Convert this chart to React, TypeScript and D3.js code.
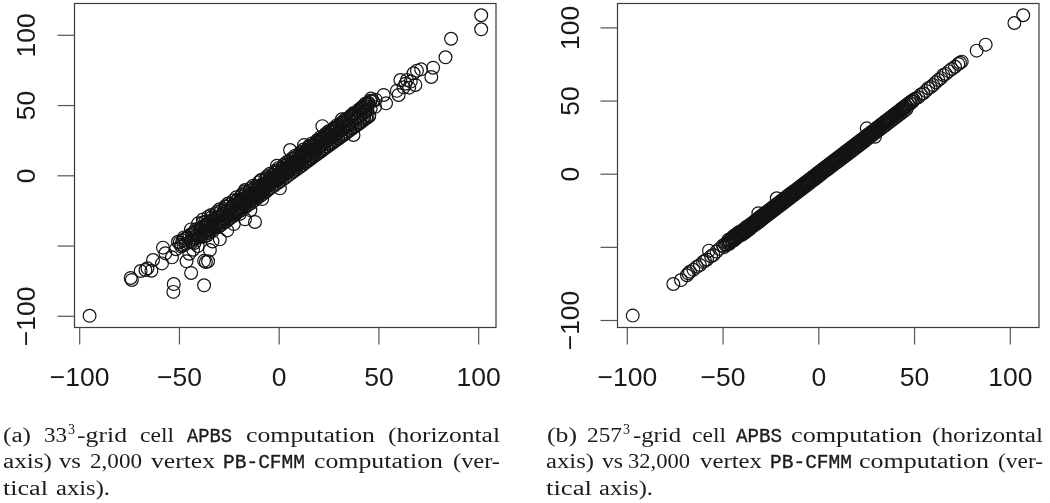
import React, { useEffect, useRef } from "react";
import * as d3 from "d3";

const xTickValues = [-100, -50, 0, 50, 100];
// R dropped the -50 label on the vertical axis, the tick stays
const yTickValues = [-100, -50, 0, 50, 100];
const yLabelValues = [-100, 0, 50, 100];

// panel (a): sparse points read one by one
const leftOuterX = [-94.8, -74.2, -73.6, -69.2, -66.8, -63.8, -65.8, -63, -58.5, -58, -53.5, -56.8, -52.6, -52.8, -43.9, -37.4, -46.2, -36.5, -35.4, -37.4, -29.5, -11.9, -16.9, -22.5, -34.5, -42.9, -50.5, -48.9, -51.5, -47.5, -44.8, -40.6, -33.2, -25.8, -19.6, -14.2, -8.3, -16.9, 0.6, -0.9, 5.7, 12.7, 21.9, 31.7, 37.5, 52.6, 60.1, 62.6, 61, 64.3, 68.5, 67.6, 69.3, 71.4, 76.5, 77.4, 83.6, 86.4, 101.5, 101.5, 59.2, 63.5, 65.4, 66.2, 53.8, 48.6, 46.2, 43.4];
const leftOuterY = [-100, -73.1, -74.5, -68.1, -67.4, -67.9, -66.2, -60.3, -62.7, -51.5, -58.4, -55.5, -77.4, -83, -69.5, -78.3, -61.2, -61.7, -61.2, -60.9, -45.6, -33.2, -31.3, -34.7, -53.2, -53, -47.3, -49.5, -52.6, -44.2, -55.8, -50.4, -47.1, -39.2, -27.5, -24.8, -16.9, -10.5, -9.3, 6.8, 18, 21.5, 35, 39.9, 28.7, 57.2, 57.2, 62.6, 67.8, 67.8, 64.3, 72.6, 74.5, 75.4, 70, 76.6, 84, 97.2, 103.9, 113.9, 60.1, 65.2, 62.4, 66.7, 51.2, 53.8, 54.6, 50.9];

// panel (a): the dense band
const leftBandX = [-49.6, -48.9, -48.2, -47.7, -47, -46.6, -45.8, -45.3, -44.7, -44.1, -43.6, -43, -42.5, -41.9, -41.2, -40.8, -40.1, -39.6, -39, -38.5, -37.9, -37.2, -36.8, -36.1, -35.6, -35, -34.6, -34, -33.4, -32.9, -32.3, -31.8, -31.1, -30.7, -30, -29.5, -28.9, -28.4, -27.8, -27.2, -26.7, -26.1, -25.6, -25, -24.5, -23.9, -23.4, -22.8, -22.2, -21.7, -21.1, -20.6, -20, -19.5, -18.9, -18.4, -17.8, -17.2, -16.7, -16.1, -15.6, -15, -14.5, -13.9, -13.4, -12.8, -12.2, -11.7, -11.1, -10.6, -10, -9.5, -8.9, -8.4, -7.8, -7.2, -6.7, -6.1, -5.6, -5, -4.5, -3.9, -3.4, -2.8, -2.2, -1.7, -1.1, -0.6, 0, 0.5, 1.1, 1.6, 2.2, 2.8, 3.3, 3.9, 4.4, 5, 5.5, 6.1, 6.6, 7.2, 7.8, 8.3, 8.9, 9.4, 10, 10.5, 11.1, 11.6, 12.2, 12.8, 13.3, 13.9, 14.4, 15, 15.5, 16.1, 16.6, 17.2, 17.8, 18.3, 18.9, 19.4, 20, 20.5, 21.1, 21.6, 22.2, 22.8, 23.3, 23.9, 24.4, 25, 25.5, 26.1, 26.6, 27.2, 27.8, 28.3, 28.9, 29.4, 30, 30.5, 31.1, 31.6, 32.2, 32.8, 33.3, 33.9, 34.4, 35, 35.5, 36.1, 36.6, 37.2, 37.8, 38.3, 38.9, 39.4, 40, 40.5, 41.1, 41.6, 42.2, 42.8, 43.3, 43.9, 44.4, 45, 46.1, 47.2, 48.3];
const leftBandY = [-47.8, -50.6, -46.5, -49.9, -45.2, -48.8, -44.1, -47.9, -42.6, -46.9, -41.8, -45.7, -44.2, -40.6, -44.9, -38.9, -43.8, -37.9, -42.4, -36.8, -41.5, -35.9, -40.2, -34.7, -39.6, -33.8, -38.1, -32.9, -36.4, -34.5, -31.8, -36.2, -30.6, -34.8, -29.5, -33.3, -28.4, -32.2, -27.1, -31, -25.9, -29.8, -24.8, -28.6, -26.5, -23.4, -27.2, -22.1, -25.9, -21.2, -24.7, -19.8, -23.6, -18.5, -22.2, -17.8, -20.9, -16.4, -19.8, -15.3, -18.6, -14.2, -17.1, -13.3, -15.9, -12.2, -14.8, -11, -13.6, -9.9, -12.4, -8.6, -11.3, -7.7, -10, -6.4, -8.9, -5.2, -7.5, -4.4, -6.2, -3.1, -5, -1.9, -3.8, -0.9, -2.6, 0.4, -1.5, 1.6, -0.1, 2.8, 1, 4.1, 2.2, 5.3, 3.4, 6.5, 4.6, 7.9, 5.8, 9.1, 7, 10.3, 8.2, 11.5, 9.4, 12.9, 10.5, 14.1, 11.7, 15.3, 12.9, 16.5, 14, 17.8, 15.2, 19, 16.4, 20.3, 17.5, 21.6, 18.8, 22.9, 20, 24.1, 21.2, 25.4, 22.3, 26.6, 23.5, 27.9, 24.8, 29.1, 26, 30.4, 27.2, 31.7, 28.3, 32.9, 29.5, 34.2, 30.8, 35.4, 32, 36.7, 33.1, 37.9, 34.3, 39.2, 35.6, 40.4, 36.8, 41.7, 38, 42.9, 39.1, 44.2, 40.4, 45.4, 41.6, 46.7, 42.8, 47.9, 44, 49.2, 45.1, 50.4, 46.4, 51.7, 47.5, 52.9, 48.7];

// panel (a): wider scatter around the band
const leftWideX = [-44, -43.4, -42.8, -42.2, -41.6, -41, -40.4, -39.8, -39.2, -38.6, -38, -37.4, -36.8, -36.2, -35.6, -35, -34.4, -33.8, -33.2, -32.6, -32, -31.4, -30.8, -30.2, -29.6, -29, -28.4, -27.8, -27.2, -26.6, -26, -25.4, -24.8, -24.2, -23.6, -23, -22.4, -21.8, -21.2, -20.6, -20, -19.4, -18.8, -18.2, -17.6, -17, -16.4, -15.8, -15.2, -14.6, -14, -13.4, -12.8, -12.2, -11.6, -11, -10.4, -9.8, -9.2, -8.6, -8, -7.4, -6.8, -6.2, -5.6, -5, -4.4, -3.8, -3.2, -2.6, -2, -1.4, -0.8, -0.2, 0.4, 1, 1.6, 2.2, 2.8, 3.4, 4, 4.6, 5.2, 5.8, 6.4, 7, 7.6, 8.2, 8.8, 9.4, 10, 10.6, 11.2, 11.8, 12.4, 13, 13.6, 14.2, 14.8, 15.4, 16, 16.6, 17.2, 17.8, 18.4, 19, 19.6, 20.2, 20.8, 21.4, 22, 22.6, 23.2, 23.8, 24.4, 25, 25.6, 26.2, 26.8, 27.4, 28, 28.6, 29.2, 29.8, 30.4, 31, 31.6, 32.2, 32.8, 33.4, 34, 34.6, 35.2, 35.8, 36.4, 37, 37.6, 38.2, 38.8, 39.4, 40, 40.6, 41.2, 41.8, 42.4, 43, 43.6, 44.2, 44.8, 45.4, 46];
const leftWideY = [-38.5, -47.6, -41.3, -48.2, -38.4, -42.8, -34.2, -43.3, -38.8, -43.7, -33.6, -40, -33, -41.5, -34.4, -40.8, -35.2, -30.1, -37.7, -30.9, -36.8, -27.6, -34.2, -29.8, -35.9, -25.3, -30.4, -33.6, -24, -31.1, -22.2, -28.7, -26.9, -20.4, -28.4, -21.7, -26.1, -18.9, -25.8, -17.4, -23.7, -19.9, -14.8, -23.1, -15.2, -21.3, -12.6, -19.4, -16.8, -11.1, -18.7, -10.2, -16.3, -13.5, -8, -14.9, -7.6, -12.8, -3.8, -12.2, -6.4, -10.9, -3.1, -8.4, -1.9, -9.5, -2.2, -5.7, 0.6, -6.1, 1.8, -3.9, 3.1, -2.8, 4.2, -1.6, 4.9, -0.7, 6.6, 1.2, 7.4, 2.1, 9.8, 3.9, 9.6, 2.9, 11.8, 5.4, 13.1, 6.8, 14.7, 7.9, 15.4, 8.6, 16.3, 10.2, 17.9, 11.1, 19.6, 12, 20.8, 13.4, 21.1, 14.6, 23.4, 15.3, 24.8, 16.9, 25.7, 18.1, 26.4, 19.3, 28.9, 20.4, 29.6, 21.8, 30.8, 22.7, 31.9, 23.6, 33.1, 25.1, 34.2, 26.4, 35.9, 27.3, 37.2, 28.5, 38.1, 29.7, 39.4, 31.1, 40.8, 32.3, 41.9, 33.8, 43.6, 34.9, 44.2, 36.1, 45.7, 37.4, 46.8, 38.6, 47.9, 40.1, 49.2, 41.3, 50.4, 42.6, 52.8, 43.9];

// panel (a): outer edge of the band
const leftEdgeX = [-38, -37.3, -36.6, -35.9, -35.2, -34.5, -33.8, -33.1, -32.4, -31.7, -31, -30.3, -29.6, -28.9, -28.2, -27.5, -26.8, -26.1, -25.4, -24.7, -24, -23.3, -22.6, -21.9, -21.2, -20.5, -19.8, -19.1, -18.4, -17.7, -17, -16.3, -15.6, -14.9, -14.2, -13.5, -12.8, -12.1, -11.4, -10.7, -10, -9.3, -8.6, -7.9, -7.2, -6.5, -5.8, -5.1, -4.4, -3.7, -3, -2.3, -1.6, -0.9, -0.2, 0.5, 1.2, 1.9, 2.6, 3.3, 4, 4.7, 5.4, 6.1, 6.8, 7.5, 8.2, 8.9, 9.6, 10.3, 11, 11.7, 12.4, 13.1, 13.8, 14.5, 15.2, 15.9, 16.6, 17.3, 18, 18.7, 19.4, 20.1, 20.8, 21.5, 22.2, 22.9, 23.6, 24.3, 25, 25.7, 26.4, 27.1, 27.8, 28.5, 29.2, 29.9, 30.6, 31.3, 32, 32.7, 33.4, 34.1, 34.8, 35.5, 36.2, 36.9, 37.6, 38.3, 39, 39.7, 40.4, 41.1, 41.8, 42.5, 43.2, 43.9, 44.6, 45.3, 46];
const leftEdgeY = [-31.5, -43.6, -35.2, -42.8, -29.4, -38.9, -28.3, -39.7, -32.9, -37.2, -26.1, -36.8, -24.2, -35.4, -27.3, -33.8, -22, -32.7, -20.1, -30.9, -23.6, -29.5, -17.8, -28.3, -15.6, -26.4, -19.2, -25.1, -13.5, -23.9, -11.6, -22.3, -15.2, -20.7, -9.3, -19.6, -7.4, -17.8, -11.1, -16.2, -5, -14.7, -3.1, -13.3, -7, -11.9, -0.7, -10.2, 1.1, -8.8, -3, -7.4, 3.3, -5.9, 5.1, -4.6, 1.4, -3.1, 7.7, -1.7, 9.4, -0.2, 5.8, 1.2, 12.1, 2.6, 14, 4.1, 10.2, 5.6, 16.6, 7, 18.3, 8.5, 14.6, 10, 20.9, 11.4, 22.7, 13, 19.1, 14.4, 25.2, 15.9, 27, 17.3, 23.7, 18.8, 29.6, 20.2, 31.3, 21.7, 28, 23.1, 33.9, 24.6, 35.7, 26, 32.4, 27.5, 38.2, 28.9, 40, 30.4, 36.8, 31.8, 42.6, 33.3, 44.3, 34.7, 41.1, 36.2, 47, 37.6, 48.7, 39.1, 45.5, 40.5, 51.3, 42, 53];

// panel (b): sparse points read one by one
const rightOuterX = [-96.9, -75.7, -71.7, -68.6, -67.9, -67, -65.2, -63.4, -61.8, -60.2, -59.2, -58.1, -57.1, -56, -54.8, -53.1, -51.7, -31.3, -21.7, 25.3, 29.6, 50.8, 52.2, 53.6, 54.8, 56.2, 57.4, 58.7, 60, 61.4, 62.7, 64.1, 65.3, 66.6, 68.2, 69.7, 71.4, 73.1, 74, 74.9, 82.7, 87.4, 102.4, 107];
const rightOuterY = [-97, -75.4, -72.7, -69.4, -68.1, -67, -65.7, -63.6, -62.4, -60.3, -59.5, -58.6, -52.6, -56.4, -55.6, -53.2, -51.4, -27, -16.8, 31, 25.3, 51.4, 52.2, 54.1, 55, 56.6, 58.4, 59.2, 60.6, 62.5, 64, 65.3, 67.5, 68.2, 70.1, 71.6, 73.1, 75, 75.8, 76.6, 84.1, 88.2, 103, 108.3];

// panel (b): the dense band
const rightBandX = [-49.8, -49.2, -48.7, -48.1, -47.6, -47, -46.5, -46.1, -45.4, -45, -44.5, -43.9, -43.4, -43, -42.4, -41.9, -41.5, -40.9, -40.3, -39.9, -39.4, -38.8, -38.3, -37.9, -37.3, -36.8, -36.2, -35.8, -35.2, -34.7, -34.1, -33.7, -33.1, -32.6, -32.1, -31.6, -31, -30.5, -30, -29.5, -28.9, -28.4, -27.9, -27.4, -26.8, -26.3, -25.8, -25.3, -24.7, -24.2, -23.7, -23.2, -22.6, -22.1, -21.6, -21.1, -20.5, -20, -19.5, -19, -18.4, -17.9, -17.4, -16.9, -16.3, -15.8, -15.3, -14.8, -14.2, -13.7, -13.2, -12.7, -12.1, -11.6, -11.1, -10.6, -10, -9.5, -9, -8.5, -7.9, -7.4, -6.9, -6.4, -5.8, -5.3, -4.8, -4.3, -3.7, -3.2, -2.7, -2.2, -1.6, -1.1, -0.6, -0.1, 0.5, 1, 1.5, 2, 2.6, 3.1, 3.6, 4.1, 4.7, 5.2, 5.7, 6.2, 6.8, 7.3, 7.8, 8.3, 8.9, 9.4, 9.9, 10.4, 11, 11.5, 12, 12.5, 13.1, 13.6, 14.1, 14.6, 15.2, 15.7, 16.2, 16.7, 17.3, 17.8, 18.3, 18.8, 19.4, 19.9, 20.4, 20.9, 21.5, 22, 22.5, 23, 23.6, 24.1, 24.6, 25.1, 25.7, 26.2, 26.7, 27.2, 27.8, 28.3, 28.8, 29.3, 29.9, 30.4, 30.9, 31.4, 32, 32.5, 33, 33.5, 34.1, 34.6, 35.1, 35.6, 36.2, 36.7, 37.2, 37.7, 38.3, 38.8, 39.3, 39.8, 40.4, 40.9, 41.4, 41.9, 42.5, 43, 43.5, 44, 44.6, 45.1, 45.6, 46.1, 46.7, 47.2, 47.7, 48.2, 48.8, 49.3, 49.8];
const rightBandY = [-49.1, -50.2, -48.2, -49, -47.1, -47.9, -46, -47, -45.1, -45.9, -44, -44.8, -43, -44, -42.2, -42.9, -41, -41.8, -40, -40.9, -39, -39.8, -38, -38.9, -37, -37.7, -36, -36.7, -35, -35.8, -33.9, -34.6, -32.8, -33.5, -31.8, -32.4, -30.8, -31.4, -29.8, -30.3, -28.6, -29.2, -27.5, -28.2, -26.5, -27.1, -25.5, -26.1, -24.4, -25, -23.3, -24, -22.2, -22.9, -21.2, -21.8, -20.2, -20.8, -19.2, -19.7, -18.1, -18.6, -17, -17.6, -16, -16.5, -14.9, -15.5, -13.8, -14.4, -12.8, -13.4, -11.8, -12.3, -10.7, -11.2, -9.7, -10.2, -8.6, -9.2, -7.6, -8, -6.5, -7, -5.5, -6, -4.4, -4.9, -3.4, -3.9, -2.3, -2.8, -1.3, -1.7, -0.2, -0.7, 0.8, 0.4, 1.9, 1.5, 2.9, 2.6, 4, 3.7, 5, 4.8, 6.1, 5.8, 7.2, 6.9, 8.2, 8, 9.3, 9, 10.3, 10.1, 11.4, 11.1, 12.4, 12.2, 13.5, 13.2, 14.6, 14.3, 15.6, 15.3, 16.7, 16.4, 17.7, 17.5, 18.8, 18.5, 19.9, 19.6, 20.9, 20.7, 22, 21.7, 23, 22.8, 24.1, 23.8, 25.2, 24.9, 26.2, 26, 27.3, 27, 28.4, 28.1, 29.4, 29.1, 30.5, 30.2, 31.6, 31.2, 32.6, 32.3, 33.7, 33.4, 34.8, 34.4, 35.8, 35.5, 36.9, 36.5, 38, 37.6, 39, 38.7, 40.1, 39.7, 41.2, 40.8, 42.2, 41.9, 43.3, 42.9, 44.4, 44, 45.4, 45, 46.5, 46.1, 47.6, 47.1, 48.6, 48.2, 49.7, 49.3, 50.5];

// panel (b): second pass over the band, a little wider
const rightWideX = [-47, -46.4, -45.8, -45.2, -44.6, -44, -43.4, -42.8, -42.2, -41.6, -41, -40.4, -39.8, -39.2, -38.6, -38, -37.4, -36.8, -36.2, -35.6, -35, -34.4, -33.8, -33.2, -32.6, -32, -31.4, -30.8, -30.2, -29.6, -29, -28.4, -27.8, -27.2, -26.6, -26, -25.4, -24.8, -24.2, -23.6, -23, -22.4, -21.8, -21.2, -20.6, -20, -19.4, -18.8, -18.2, -17.6, -17, -16.4, -15.8, -15.2, -14.6, -14, -13.4, -12.8, -12.2, -11.6, -11, -10.4, -9.8, -9.2, -8.6, -8, -7.4, -6.8, -6.2, -5.6, -5, -4.4, -3.8, -3.2, -2.6, -2, -1.4, -0.8, -0.2, 0.4, 1, 1.6, 2.2, 2.8, 3.4, 4, 4.6, 5.2, 5.8, 6.4, 7, 7.6, 8.2, 8.8, 9.4, 10, 10.6, 11.2, 11.8, 12.4, 13, 13.6, 14.2, 14.8, 15.4, 16, 16.6, 17.2, 17.8, 18.4, 19, 19.6, 20.2, 20.8, 21.4, 22, 22.6, 23.2, 23.8, 24.4, 25, 25.6, 26.2, 26.8, 27.4, 28, 28.6, 29.2, 29.8, 30.4, 31, 31.6, 32.2, 32.8, 33.4, 34, 34.6, 35.2, 35.8, 36.4, 37, 37.6, 38.2, 38.8, 39.4, 40, 40.6, 41.2, 41.8, 42.4, 43, 43.6, 44.2, 44.8, 45.4, 46];
const rightWideY = [-45.2, -47.9, -44.6, -46.4, -43, -45.6, -41.9, -44.1, -40.6, -42.5, -39.7, -42.1, -38.9, -41.2, -37.6, -40.1, -36.2, -38.9, -35.3, -37.6, -34.2, -36.3, -33, -35.1, -31.6, -34, -30.4, -32.8, -29.2, -31.6, -28, -30.3, -26.7, -29.1, -25.6, -27.9, -24.4, -26.8, -23.2, -25.6, -22, -24.4, -20.9, -23.1, -19.7, -22, -18.5, -20.8, -17.3, -19.6, -16.1, -18.4, -14.8, -17.2, -13.7, -16, -12.5, -14.8, -11.4, -13.5, -10.2, -12.4, -9, -11.2, -7.8, -10, -6.6, -8.8, -5.4, -7.6, -4.2, -6.4, -3, -5.1, -1.8, -4, -0.6, -2.8, 0.6, -1.6, 1.8, -0.3, 3, 0.9, 4.2, 2.1, 5.4, 3.2, 6.6, 4.5, 7.8, 5.6, 9, 6.9, 10.2, 8, 11.4, 9.2, 12.6, 10.4, 13.8, 11.6, 15, 12.8, 16.2, 14, 17.4, 15.2, 18.6, 16.4, 19.8, 17.6, 21, 18.8, 22.2, 20, 23.4, 21.2, 24.6, 22.4, 25.8, 23.6, 27, 24.8, 28.2, 26, 29.4, 27.2, 30.6, 28.4, 31.8, 29.6, 33, 30.8, 34.2, 32, 35.4, 33.2, 36.6, 34.4, 37.8, 35.6, 39, 36.8, 40.2, 38, 41.4, 39.2, 42.6, 40.4, 43.8, 41.6, 45, 42.8, 46.2, 44, 47.4, 45.2];

// caption words: [text, start, end, line, mono]
type Word = [string, number, number, number, boolean?];
const leftCaption: Word[] = [
  ["(a)", 3, 31, 0], ["33", 44, 67, 0], ["-grid", 77, 127, 0], ["cell", 140, 174, 0],
  ["APBS", 187, 232, 0, true], ["computation", 246, 375, 0], ["(horizontal", 388, 500, 0],
  ["axis)", 3, 52, 1], ["vs", 59, 81, 1], ["2,000", 90, 142, 1], ["vertex", 151, 215, 1],
  ["PB-CFMM", 223, 305, 1, true], ["computation", 314, 443, 1], ["(ver-", 453, 500, 1],
  ["tical", 3, 48, 2], ["axis).", 56, 110, 2],
];
const rightCaption: Word[] = [
  ["(b)", 547, 577, 0], ["257", 587, 622, 0], ["-grid", 633, 681, 0], ["cell", 692, 726, 0],
  ["APBS", 736, 782, 0, true], ["computation", 791, 922, 0], ["(horizontal", 932, 1043, 0],
  ["axis)", 546, 594, 1], ["vs", 602, 623, 1], ["32,000", 628, 690, 1], ["vertex", 700, 762, 1],
  ["PB-CFMM", 770, 852, 1, true], ["computation", 859, 989, 1], ["(ver-", 998, 1043, 1],
  ["tical", 546, 592, 2], ["axis).", 599, 653, 2],
];
const lineBaselines = [442, 468, 495];

const sans = "'Liberation Sans', Arial, sans-serif";

function drawPanel(svg, opts) {
  const { box, xZero, xUnit, yZero, yUnit, groups } = opts;
  const x = d3.scaleLinear().domain([0, 100]).range([xZero, xZero + 100 * xUnit]);
  const y = d3.scaleLinear().domain([0, 100]).range([yZero, yZero - 100 * yUnit]);
  const fmt = (d) => String(d).replace("-", "\u2212");
  const yFmt = (d) => (yLabelValues.includes(d) ? fmt(d) : "");

  const g = svg.append("g");

  g.append("rect")
    .attr("x", box.left)
    .attr("y", box.top)
    .attr("width", box.right - box.left)
    .attr("height", box.bottom - box.top)
    .attr("fill", "none")
    .attr("stroke", "#3a3a3a")
    .attr("stroke-width", 1.2);

  const bottom = g
    .append("g")
    .attr("transform", `translate(0,${box.bottom})`)
    .call(d3.axisBottom(x).tickValues(xTickValues).tickSize(17).tickPadding(23).tickFormat(fmt));
  const left = g
    .append("g")
    .attr("transform", `translate(${box.left},0)`)
    .call(d3.axisLeft(y).tickValues(yTickValues).tickSize(17).tickFormat(yFmt));

  bottom.select(".domain").remove();
  left.select(".domain").remove();
  bottom.selectAll("line").attr("stroke", "#555").attr("stroke-width", 1.2);
  left.selectAll("line").attr("stroke", "#555").attr("stroke-width", 1.2);
  bottom.selectAll("text").attr("font-family", sans).attr("font-size", 26.5).attr("fill", "#1a1a1a");
  left
    .selectAll("text")
    .attr("font-family", sans)
    .attr("font-size", 26.5)
    .attr("fill", "#1a1a1a")
    .attr("text-anchor", "middle")
    .attr("dy", 0)
    .attr("x", 0)
    .attr("transform", `translate(${opts.yLabelX - box.left},0) rotate(-90)`);

  // d3.zip keeps each x with its own y, group by group
  const points = groups.flatMap(([xs, ys]) => d3.zip(xs, ys));

  g.selectAll("circle")
    .data(points)
    .enter()
    .append("circle")
    .attr("cx", (d) => x(d[0]))
    .attr("cy", (d) => y(d[1]))
    .attr("r", 6.4)
    .attr("fill", "none")
    .attr("stroke", "#141414")
    .attr("stroke-width", 1.2);
}

function drawCaption(svg, words, sup) {
  const g = svg.append("g").attr("fill", "#1c1c1c");
  words.forEach(([text, start, end, line, mono]) => {
    g.append("text")
      .attr("x", start)
      .attr("y", lineBaselines[line])
      .attr("textLength", end - start)
      .attr("lengthAdjust", "spacingAndGlyphs")
      .attr("font-family", mono ? "'Liberation Mono', monospace" : "'Liberation Serif', serif")
      .attr("font-size", mono ? 20 : 20.5)
      .attr("stroke", mono ? "#1c1c1c" : "none")
      .attr("stroke-width", mono ? 0.35 : 0)
      .text(text);
  });
  g.append("text")
    .attr("x", sup)
    .attr("y", lineBaselines[0] - 8)
    .attr("font-family", "'Liberation Serif', serif")
    .attr("font-size", 14)
    .text("3");
}

export default function App() {
  const ref = useRef(null);

  useEffect(() => {
    const svg = d3.select(ref.current);
    svg.selectAll("*").remove();

    drawPanel(svg, {
      box: { left: 74.5, right: 496, top: 3.5, bottom: 327.5 },
      xZero: 278.7,
      xUnit: 1.995,
      yZero: 175.3,
      yUnit: 1.405,
      yLabelX: 35,
      groups: [
        [leftBandX, leftBandY],
        [leftWideX, leftWideY],
        [leftEdgeX, leftEdgeY],
        [leftOuterX, leftOuterY],
      ],
    });
    drawPanel(svg, {
      box: { left: 617.5, right: 1039, top: 3.5, bottom: 327.5 },
      xZero: 818.3,
      xUnit: 1.915,
      yZero: 173.7,
      yUnit: 1.463,
      yLabelX: 579,
      groups: [
        [rightBandX, rightBandY],
        [rightWideX, rightWideY],
        [rightOuterX, rightOuterY],
      ],
    });
    drawCaption(svg, leftCaption, 68);
    drawCaption(svg, rightCaption, 623);
  }, []);

  return (
    <svg
      ref={ref}
      width={1050}
      height={503}
      style={{ position: "absolute", left: 0, top: 0, background: "#fff", filter: "blur(0.4px)" }}
    />
  );
}
